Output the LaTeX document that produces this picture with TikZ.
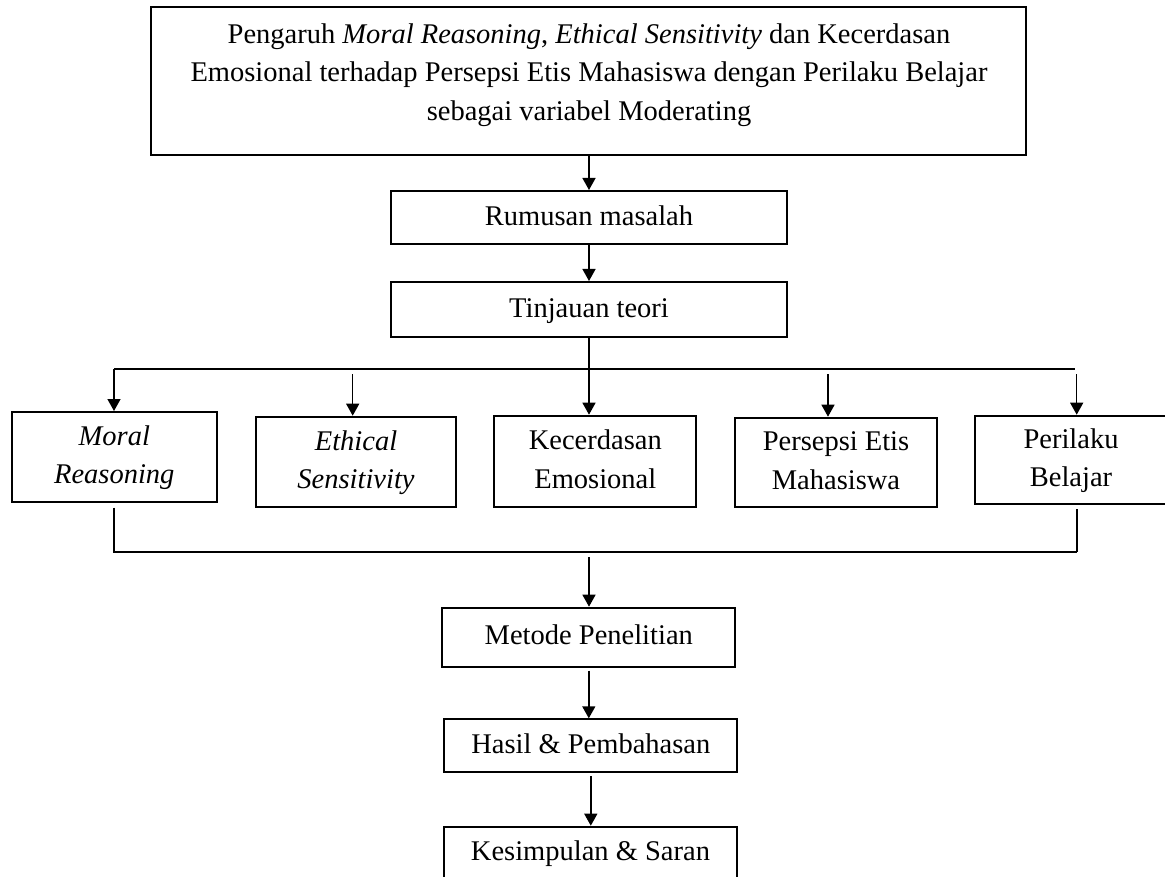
\documentclass[tikz,border=0pt]{standalone}
\usepackage{fontspec}
\setmainfont{Liberation Serif}
\usetikzlibrary{arrows.meta}
\newcommand{\diagfont}{\fontsize{28.5}{38.5}\selectfont}
\newcommand{\cellbox}[1]{\begin{tabular}{@{}c@{}}#1\end{tabular}}
\begin{document}
\begin{tikzpicture}[x=1pt,y=-1pt,
  box/.style={draw,line width=2pt,inner sep=0pt,font=\diagfont},
  plain/.style={inner sep=0pt,align=center,font=\diagfont},
  conn/.style={line width=1.4pt},
  arr/.style={conn,-{Triangle[length=12pt,width=13pt]}}]
\useasboundingbox[fill=white] (0,0) rectangle (1165,877);
% boxes
\node[box,minimum width=875,minimum height=148] (top) at (588.5,81.3) {};
\node[plain] (toptext) at (589,75) {Pengaruh \textit{Moral Reasoning}, \textit{Ethical Sensitivity} dan Kecerdasan\\Emosional terhadap Persepsi Etis Mahasiswa dengan Perilaku Belajar\\sebagai variabel Moderating};
\node[box,minimum width=396,minimum height=53] (rum) at (589,217.5) {\cellbox{Rumusan masalah}};
\node[box,minimum width=396,minimum height=55] (tin) at (589,309.5) {\cellbox{Tinjauan teori}};
\node[box,minimum width=205,minimum height=90] (moral) at (114.3,457) {\cellbox{\textit{Moral}\\\textit{Reasoning}}};
\node[box,minimum width=200,minimum height=90] (eth) at (356,461.7) {\cellbox{\textit{Ethical}\\\textit{Sensitivity}}};
\node[box,minimum width=202,minimum height=91] (kec) at (595.3,461.2) {\cellbox{Kecerdasan\\Emosional}};
\node[box,minimum width=202,minimum height=89] (per) at (836,462.2) {\cellbox{Persepsi Etis\\Mahasiswa}};
\node[box,minimum width=192,minimum height=88.6] (pb) at (1071,460) {\cellbox{Perilaku\\Belajar}};
\node[box,minimum width=293,minimum height=59] (met) at (588.8,637.2) {\cellbox{Metode Penelitian}};
\node[box,minimum width=293,minimum height=52.4] (has) at (590.8,745.5) {\cellbox{Hasil \& Pembahasan}};
\node[box,minimum width=293,minimum height=53] (kes) at (590.5,853.2) {\cellbox{Kesimpulan \& Saran}};
% coordinates of the bus lines
\coordinate (busL) at (114,369);
\coordinate (busR) at (1075,369);
\coordinate (eIn) at (352.7,374);
\coordinate (pIn) at (828,374);
\coordinate (qIn) at (1076.7,374);
\coordinate (lowL) at (114,552);
\coordinate (lowR) at (1077,552);
\coordinate (cIn) at (589,557);
% connectors
\draw[arr] (top.south -| rum.north) -- (rum.north);
\draw[arr] (rum.south) -- (tin.north);
\draw[arr] (tin.south) -- (tin.south |- kec.north);
\draw[conn] (busL) -- (busR);
\draw[arr] (busL) -- (busL |- moral.north);
\draw[arr] (eIn) -- (eIn |- eth.north);
\draw[arr] (pIn) -- (pIn |- per.north);
\draw[arr] (qIn) -- (qIn |- pb.north);
\draw[conn] (lowL |- moral.south) ++(0,4.7) -- (lowL) -- (lowR);
\draw[conn] (lowR |- pb.south) ++(0,4) -- (lowR);
\draw[arr] (cIn) -- (cIn |- met.north);
\draw[arr] (met.south) ++(0,3) -- (met.south |- has.north);
\draw[arr] (has.south) ++(0,3.3) -- (has.south |- kes.north);
\end{tikzpicture}
\end{document}
